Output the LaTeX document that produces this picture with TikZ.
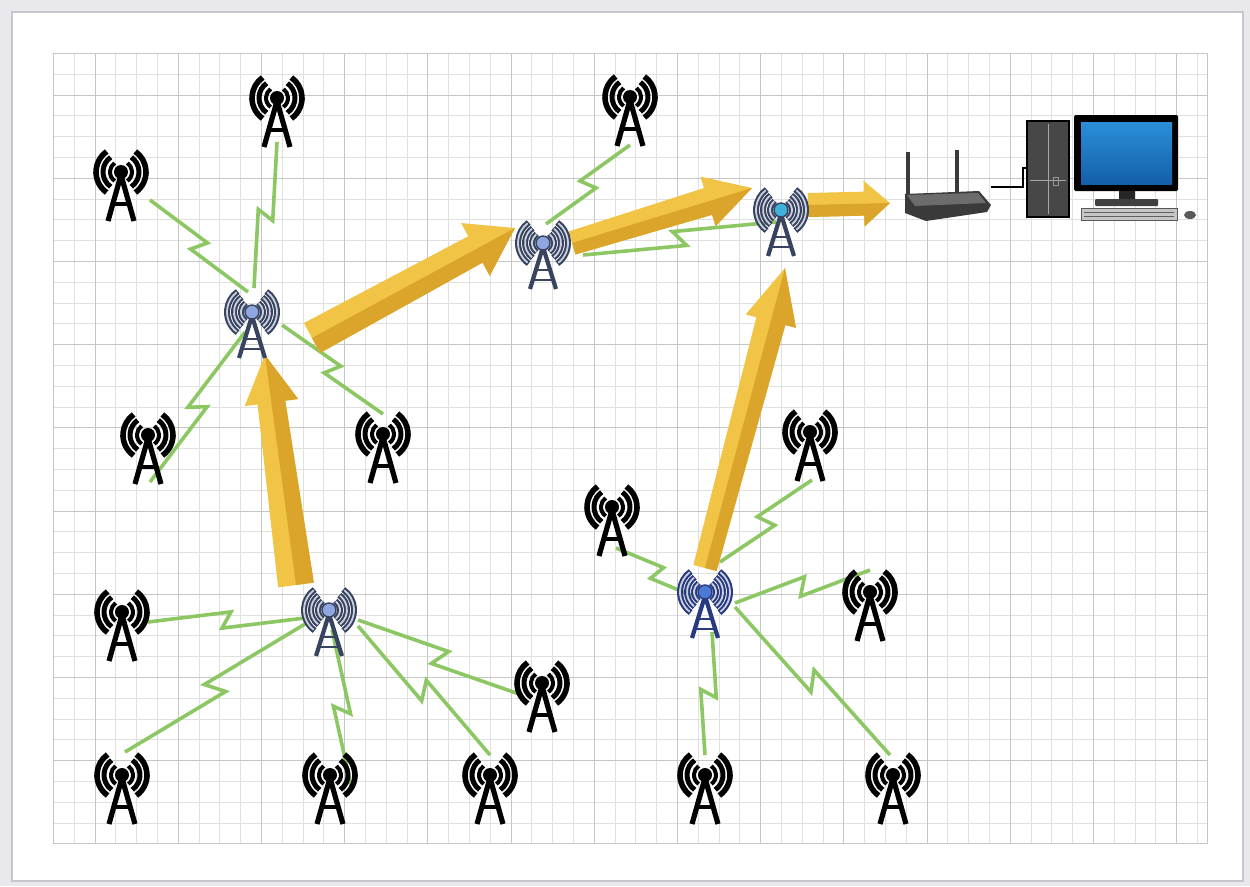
\documentclass[tikz,border=0pt]{standalone}
\usetikzlibrary{calc}
\definecolor{pagegray}{HTML}{E8E8ED}
\definecolor{framegray}{HTML}{C6C6CF}
\definecolor{gridminor}{HTML}{E0E0E0}
\definecolor{gridmajor}{HTML}{C6C6C6}
\definecolor{boltgreen}{HTML}{8DC763}
\definecolor{gold}{HTML}{F1C445}
\definecolor{golddark}{HTML}{DAA52A}
\definecolor{hubdark}{HTML}{384360}
\definecolor{hublight}{HTML}{C9D0DE}
\definecolor{hubpale}{HTML}{8FA6E0}
\definecolor{hubcyan}{HTML}{3DB2DA}
\definecolor{hubblue}{HTML}{4C78D6}
\definecolor{hubnavy}{HTML}{283A80}
\definecolor{screentop}{HTML}{2A8FD8}
\definecolor{screenbot}{HTML}{135FA8}
\definecolor{casegray}{HTML}{474747}
\definecolor{routergray}{HTML}{3A3A3A}

\tikzset{
  site/.style={circle, inner sep=0pt, minimum size=1pt},
  bolt/.style={draw=boltgreen, line width=3.6pt, line join=miter, miter limit=6},
  minorgrid/.style={draw=gridminor, line width=1pt},
  majorgrid/.style={draw=gridmajor, line width=1.2pt},
  pics/leaftower/.style={code={
    \foreach \r/\w in {11/4, 18/5, 25/5.6}{
      \draw[line width=\w pt] (125:\r) arc (125:235:\r);
      \draw[line width=\w pt] (55:\r) arc (55:-55:\r);
    }
    \draw[line width=5.2pt, line join=miter] (-13,49) -- (0,3) -- (13,49);
    \draw[line width=4pt] (-8,32) -- (8,32);
    \fill (0,0) circle (7);
  }},
  pics/hubtower/.style 2 args={code={
    \foreach \r in {11,18,25}{
      \draw[#2, line width=6pt] (125:\r) arc (125:235:\r);
      \draw[#2, line width=6pt] (55:\r) arc (55:-55:\r);
      \draw[hublight, line width=1.8pt] (128:\r) arc (128:232:\r);
      \draw[hublight, line width=1.8pt] (52:\r) arc (52:-52:\r);
    }
    \draw[#2, line width=4.2pt, line join=miter] (-13,46) -- (0,4) -- (13,46);
    \draw[#2, line width=2.6pt] (-6.5,27) -- (6.5,27) (-9.5,37) -- (9.5,37);
    \filldraw[fill=#1, draw=#2, line width=1.4pt] (0,0) circle (7);
  }},
}

% radio link with a lightning jog: from node, offset, to node, offset, jog size
\newcommand\zap[5]{%
  \coordinate (zs) at ($(#1)+(#2)$);
  \coordinate (ze) at ($(#3)+(#4)$);
  \draw[bolt] (zs) -- ($(zs)!0.53!(ze)!#5!90:(ze)$) -- ($(zs)!0.47!(ze)!#5!-90:(ze)$) -- (ze);
}

% bevelled block arrow: tail node, offset, tip node, offset,
% tail half width, neck half width, head half width, head length
\newcommand\goldarrow[8]{%
  \coordinate (gs) at ($(#1)+(#2)$);
  \coordinate (ge) at ($(#3)+(#4)$);
  \path let \p1=($(ge)-(gs)$) in \pgfextra{%
    \pgfmathsetmacro\ArrAngle{atan2(\y1,\x1)}%
    \pgfmathsetmacro\ArrLength{veclen(\x1,\y1)}%
    \xdef\ArrAngle{\ArrAngle}\xdef\ArrLength{\ArrLength}};
  \pgfmathsetmacro\ArrNeck{\ArrLength-#8}
  \begin{scope}[shift={(gs)}, rotate=\ArrAngle]
    \fill[gold] (0,-#5) -- (\ArrNeck,-#6) -- (\ArrNeck,-#7) -- (\ArrLength,0)
      -- (\ArrNeck,#7) -- (\ArrNeck,#6) -- (0,#5) -- cycle;
    \fill[golddark] (0,0) -- (\ArrLength,0) -- (\ArrNeck,#7) -- (\ArrNeck,#6) -- (0,#5) -- cycle;
  \end{scope}
}

\begin{document}
\begin{tikzpicture}[x=1pt,y=-1pt]
\useasboundingbox (0,0) rectangle (1250,886);
\fill[pagegray] (0,0) rectangle (1250,886);
\filldraw[fill=white, draw=framegray, line width=1.6pt] (12,12) rectangle (1243,881);

% graph paper, lines snapped to whole units
\foreach \i in {0,...,55}{\pgfmathsetmacro\gx{round(53+\i*20.8)+0.5}\draw[minorgrid] (\gx,53) -- (\gx,843.5);}
\foreach \i in {0,...,38}{\pgfmathsetmacro\gy{round(53+\i*20.8)+0.5}\draw[minorgrid] (53,\gy) -- (1207,\gy);}
\foreach \i in {2,6,...,54}{\pgfmathsetmacro\gx{round(53+\i*20.8)+0.5}\draw[majorgrid] (\gx,53) -- (\gx,843.5);}
\foreach \i in {2,6,...,38}{\pgfmathsetmacro\gy{round(53+\i*20.8)+0.5}\draw[majorgrid] (53,\gy) -- (1207,\gy);}
\draw[majorgrid] (53.5,53.5) rectangle (1207.5,843.5);

% sensor towers
\node[site] (t1) at (277,98) {};
\node[site] (t2) at (121,172) {};
\node[site] (t3) at (630,97) {};
\node[site] (t4) at (148,435) {};
\node[site] (t5) at (383,434) {};
\node[site] (t6) at (612,507) {};
\node[site] (t7) at (810,432) {};
\node[site] (t8) at (870,592) {};
\node[site] (t9) at (122,612) {};
\node[site] (t10) at (542,683) {};
\node[site] (t11) at (122,775) {};
\node[site] (t12) at (330,775) {};
\node[site] (t13) at (490,775) {};
\node[site] (t14) at (705,775) {};
\node[site] (t15) at (893,775) {};
% cluster heads
\node[site] (A) at (252,312) {};
\node[site] (B) at (543,243) {};
\node[site] (C) at (781,210) {};
\node[site] (D) at (329,610) {};
\node[site] (E) at (705,592) {};
% base station
\node[site] (router) at (947,195) {};
\node[site] (pc) at (1048,169) {};

% radio links
\zap{t1}{0,44}{A}{2,-24}{8pt}
\zap{t2}{29,28}{A}{-4,-20}{8pt}
\zap{t4}{2,47}{A}{-7,20}{-8pt}
\zap{t5}{0,-20}{A}{30,13}{8pt}
\zap{t3}{0,48}{B}{3,-19}{-8pt}
\zap{C}{-5,12}{B}{40,12}{-8pt}
\zap{t6}{4,41}{E}{-7,6}{8pt}
\zap{t7}{2,48}{E}{15,-30}{-9pt}
\zap{t8}{0,-22}{E}{30,11}{9pt}
\zap{t14}{0,-20}{E}{7,40}{8pt}
\zap{t15}{-3,-20}{E}{30,15}{-9pt}
\zap{t9}{26,10}{D}{-24,8}{8pt}
\zap{t11}{3,-23}{D}{-24,14}{-9pt}
\zap{t12}{22,15}{D}{3,20}{8pt}
\zap{t13}{0,-20}{D}{29,16}{-9pt}
\zap{t10}{-20,12}{D}{29,10}{9pt}

% data flow towards the base station
\goldarrow{D}{-33,-25}{A}{13,43}{18}{14}{27}{48}
\goldarrow{A}{60,26}{B}{-28,-15}{17}{15}{30}{45}
\goldarrow{B}{29,0}{C}{-29,-22}{12}{14}{26}{46}
\goldarrow{E}{0,-24}{C}{4,58}{12}{15}{26}{55}
\goldarrow{C}{27,-5}{router}{-57,8}{12}{12}{23}{26}

% tower icons
\foreach \t in {t1,t2,t3,t4,t5,t6,t7,t8,t9,t10,t11,t12,t13,t14,t15}{\pic at (\t) {leaftower};}
\pic at (A) {hubtower={hubpale}{hubdark}};
\pic at (B) {hubtower={hubpale}{hubdark}};
\pic at (C) {hubtower={hubcyan}{hubdark}};
\pic at (D) {hubtower={hubpale}{hubdark}};
\pic at (E) {hubtower={hubblue}{hubnavy}};

% router
\draw[routergray, line width=4pt] (908,152) -- (908,196);
\draw[routergray, line width=4pt] (957,150) -- (957,194);
\fill[routergray] (905,194) -- (979,191) -- (991,205) -- (987,212) -- (926,221) -- (905,213) -- cycle;
\fill[casegray!80] (907,195) -- (978,193) -- (986,203) -- (915,206) -- cycle;

% cable to the computer
\coordinate (rport) at (991,187);
\coordinate (pcport) at (1027,168);
\draw[black, line width=1.6pt] (rport) -- (1023,187) |- (pcport);

% computer case
\filldraw[fill=casegray, draw=black, line width=2.6pt] (1027,121) rectangle (1069,217);
\draw[gray!70, line width=0.8pt] (1048,124) -- (1048,214) (1030,180) -- (1066,180);
\draw[gray!80, line width=0.8pt] (1053,177) rectangle (1058,185);

% monitor, keyboard and mouse
\fill[black, rounded corners=1.5pt] (1074,115) rectangle (1178,191);
\shade[top color=screentop, bottom color=screenbot] (1081,122) rectangle (1172,184);
\fill[black!85] (1119,191) rectangle (1135,200);
\fill[black!75, rounded corners=1pt] (1095,199) rectangle (1158,206);
\filldraw[fill=gray!45, draw=gray!70!black, line width=0.8pt] (1081,208) rectangle (1177,220);
\draw[gray!75!black, line width=0.6pt] (1084,212) -- (1174,212) (1084,216) -- (1174,216);
\fill[gray!70!black] (1190,215) ellipse (6 and 4);
\end{tikzpicture}
\end{document}
